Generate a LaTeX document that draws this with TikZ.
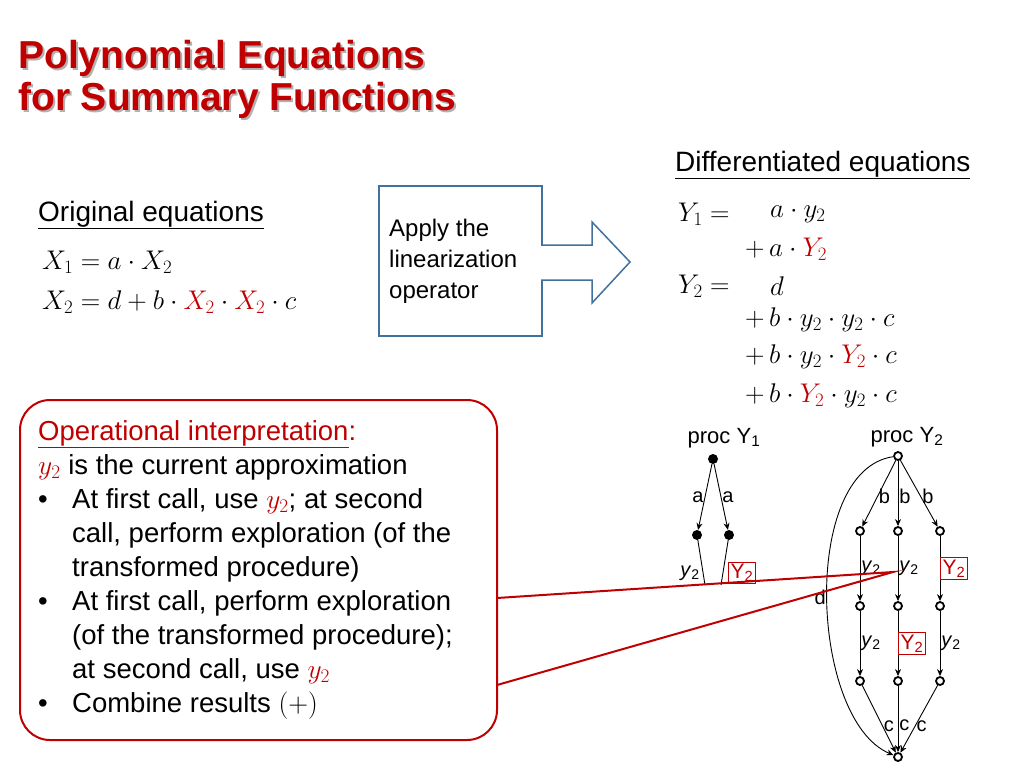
\documentclass[tikz,border=0pt]{standalone}
\usepackage{fix-cm}
\usepackage{fontspec}
\setmainfont{Liberation Sans}
\usetikzlibrary{arrows.meta}
\definecolor{dred}{RGB}{192,0,0}
\definecolor{bblue}{RGB}{65,113,156}
\begin{document}
\begin{tikzpicture}[x=1pt,y=-1pt,
  txt/.style={anchor=west,inner sep=0pt,font=\fontsize{28}{32}\selectfont},
  eq/.style={anchor=west,inner sep=0pt,font=\fontsize{27}{30}\selectfont},
  lbl/.style={inner sep=1pt,font=\fontsize{20}{22}\selectfont},
  rbox/.style={draw=dred,text=dred,line width=1pt,inner sep=2pt,font=\fontsize{21}{23}\selectfont},
  fdot/.style={circle,fill=black,inner sep=0pt,minimum size=10pt},
  odot/.style={circle,draw=black,fill=white,line width=1.8pt,inner sep=0pt,minimum size=8pt},
  ed/.style={-{Stealth[length=7pt,width=6pt]},line width=0.9pt}]
\useasboundingbox (0,0) rectangle (1024,768);
% title
\foreach \t/\yy in {Polynomial Equations/58,for Summary Functions/100}{
  \node[anchor=west,inner sep=0pt,font=\fontsize{39}{42}\bfseries\selectfont,text=gray!60] at (20,\yy+2) {\t};
  \node[anchor=west,inner sep=0pt,font=\fontsize{39}{42}\bfseries\selectfont,text=dred] at (18,\yy) {\t};}
% original
\node[txt] (oe) at (38,215) {\underline{Original equations}};
\node[eq] (e1) at (42,262) {$X_1 = a\cdot X_2$};
\node[eq] (e2) at (42,302) {$X_2 = d + b\cdot \textcolor{dred}{X_2}\cdot \textcolor{dred}{X_2}\cdot c$};
% apply box
\node[draw=bblue,line width=1.5pt,minimum width=163pt,minimum height=150pt,anchor=north west] (ab) at (378,185) {};
\node[anchor=north west,align=left,inner sep=0pt,font=\fontsize{24}{31}\selectfont] (at) at (389,219) {Apply the\\linearization\\operator};
\draw[bblue,line width=1.5pt,fill=white] (541,245) -- (592,245) -- (592,222) -- (630,262) -- (592,303) -- (592,280) -- (541,280);
% differentiated
\node[txt] (de) at (675,165) {\underline{Differentiated equations}};
\node[eq] at (678,214) {$Y_1 = $};
\node[eq] at (770,214) {$a\cdot y_2$};
\node[eq] at (745,249) {$+\,a\cdot \textcolor{dred}{Y_2}$};
\node[eq] at (678,286) {$Y_2 = $};
\node[eq] at (770,286) {$d$};
\node[eq] at (745,320) {$+\,b\cdot y_2\cdot y_2\cdot c$};
\node[eq] at (745,357) {$+\,b\cdot y_2\cdot \textcolor{dred}{Y_2}\cdot c$};
\node[eq] at (745,396) {$+\,b\cdot \textcolor{dred}{Y_2}\cdot y_2\cdot c$};
% graph Y1
\node[lbl,font=\fontsize{22}{24}\selectfont] (p1) at (724,438) {proc Y\textsubscript{1}};
\node[fdot] (t1) at (713,459) {};
\node[fdot] (l1) at (697,535) {};
\node[fdot] (r1) at (729,535) {};
\coordinate (lb) at (705,585);
\coordinate (rb) at (721,585);
\draw[ed] (t1) -- node[lbl,left] {a} (l1);
\draw[ed] (t1) -- node[lbl,right] {a} (r1);
\draw[line width=0.9pt] (l1) -- (lb);
\draw[line width=0.9pt] (r1) -- (rb);
\node[lbl] at (690,573) {\textit{y}\textsubscript{2}};
\node[rbox] at (742,573) {Y\textsubscript{2}};
% graph Y2
\node[lbl,font=\fontsize{22}{24}\selectfont] (p2) at (907,437) {proc Y\textsubscript{2}};
\node[odot] (t) at (898,456) {};
\foreach \c/\x in {a/860,b/898,c/940}{
  \node[odot] (\c1) at (\x,531) {};
  \node[odot] (\c2) at (\x,606) {};
  \node[odot] (\c3) at (\x,681) {};}
\node[odot] (bt) at (898,757) {};
\draw[ed] (t) -- node[lbl,right,pos=0.55] {b} (a1);
\draw[ed] (t) -- node[lbl,right,pos=0.55] {b} (b1);
\draw[ed] (t) -- node[lbl,right,pos=0.55] {b} (c1);
\draw[ed] (a1) -- node[lbl,right] {\textit{y}\textsubscript{2}} (a2);
\draw[ed] (b1) -- node[lbl,right] {\textit{y}\textsubscript{2}} (b2);
\draw[ed] (c1) -- node[rbox,right] {Y\textsubscript{2}} (c2);
\draw[ed] (a2) -- node[lbl,right] {\textit{y}\textsubscript{2}} (a3);
\draw[ed] (b2) -- node[rbox,right] {Y\textsubscript{2}} (b3);
\draw[ed] (c2) -- node[lbl,right] {\textit{y}\textsubscript{2}} (c3);
\draw[ed] (a3) -- node[lbl,right,pos=0.6] {c} (bt);
\draw[ed] (b3) -- node[lbl,right,pos=0.6] {c} (bt);
\draw[ed] (c3) -- node[lbl,right,pos=0.6] {c} (bt);
\draw[ed] (t) .. controls (800,470) and (810,720) .. node[lbl,left,pos=0.5] {d} (bt);
% callout
\draw[dred,line width=2pt] (497,598) -- (893,572) -- (497,685);
\draw[dred,line width=2pt,fill=white,rounded corners=30pt] (20,400) rectangle (497,740);
\node[anchor=north west,align=left,inner sep=0pt,font=\fontsize{27.5}{34}\selectfont] (ci) at (38,420) {%
\textcolor{dred}{\underline{Operational interpretation}:}\\
$\textcolor{dred}{y_2}$ is the current approximation\\
\makebox[34pt][l]{\textbullet}At first call, use $\textcolor{dred}{y_2}$; at second\\
\hspace*{34pt}call, perform exploration (of the\\
\hspace*{34pt}transformed procedure)\\
\makebox[34pt][l]{\textbullet}At first call, perform exploration\\
\hspace*{34pt}(of the transformed procedure);\\
\hspace*{34pt}at second call, use $\textcolor{dred}{y_2}$\\
\makebox[34pt][l]{\textbullet}Combine results $(+)$};
\end{tikzpicture}
\end{document}
